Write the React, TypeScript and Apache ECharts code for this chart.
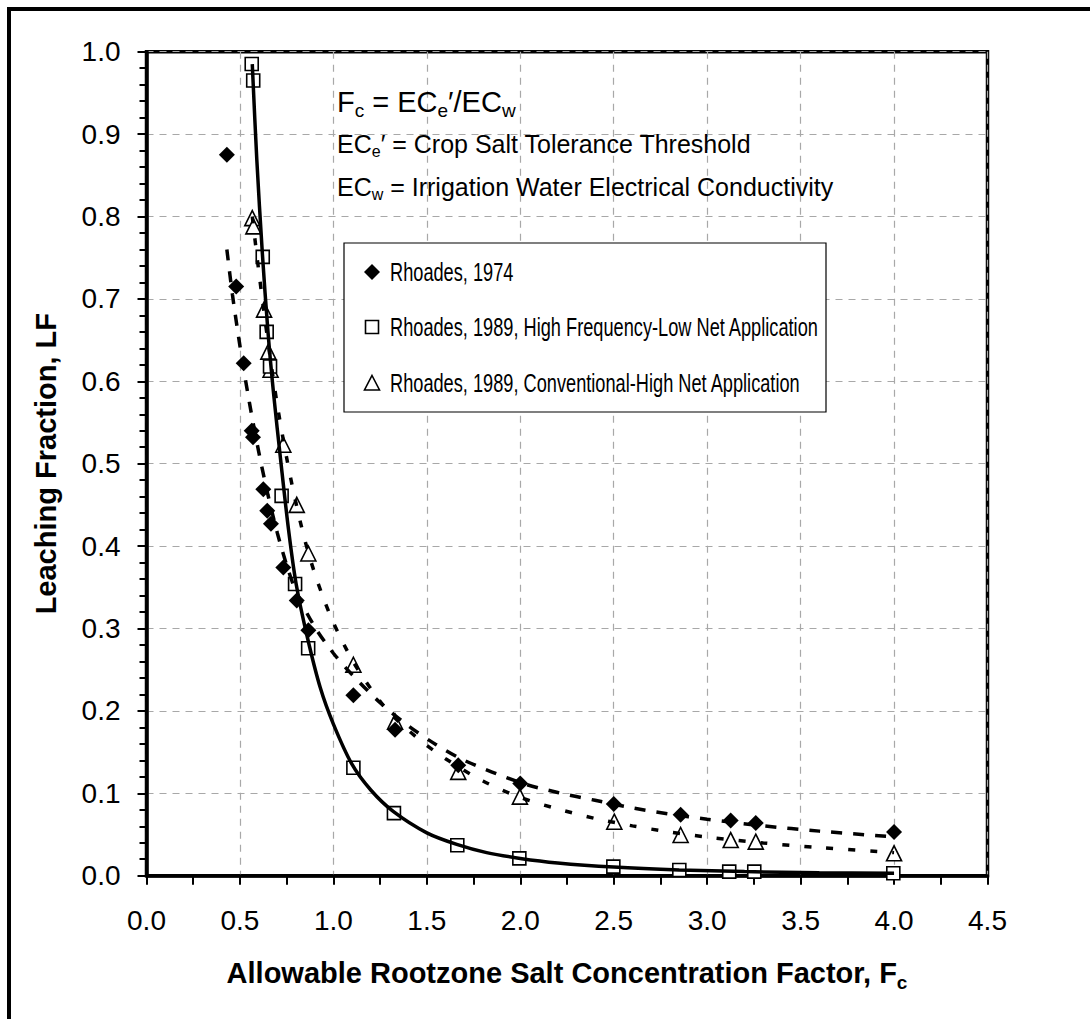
import React, { useEffect, useRef } from 'react';
import * as echarts from 'echarts';

// ---- Data ----
const rhoades1974X = [0.43, 0.48, 0.52, 0.563, 0.57, 0.625, 0.646, 0.666, 0.732, 0.804, 0.866, 1.107, 1.33, 1.668, 2.0, 2.5, 2.858, 3.126, 3.26, 4.0];
const rhoades1974Y = [0.875, 0.715, 0.622, 0.54, 0.532, 0.469, 0.443, 0.427, 0.374, 0.334, 0.298, 0.219, 0.177, 0.134, 0.112, 0.087, 0.074, 0.067, 0.064, 0.053];

const highFreqX = [0.563, 0.571, 0.622, 0.643, 0.661, 0.723, 0.795, 0.865, 1.107, 1.324, 1.663, 1.995, 2.498, 2.851, 3.118, 3.252, 3.996];
const highFreqY = [0.985, 0.965, 0.751, 0.66, 0.618, 0.461, 0.354, 0.276, 0.131, 0.076, 0.037, 0.021, 0.011, 0.007, 0.005, 0.005, 0.003];

const conventionalX = [0.566, 0.572, 0.629, 0.652, 0.664, 0.732, 0.804, 0.866, 1.107, 1.33, 1.668, 1.998, 2.503, 2.858, 3.126, 3.26, 4.0];
const conventionalY = [0.798, 0.788, 0.687, 0.636, 0.614, 0.523, 0.45, 0.391, 0.256, 0.187, 0.126, 0.096, 0.0655, 0.0494, 0.0433, 0.0413, 0.0272];

// trend curves, points
const fitHighFreqX = [0.566, 0.59, 0.62, 0.65, 0.68, 0.72, 0.76, 0.8, 0.86, 0.93, 1.0, 1.1, 1.2, 1.32, 1.5, 1.66, 1.82, 2.0, 2.2, 2.5, 2.85, 3.2, 3.6, 4.0];
const fitHighFreqY = [0.985, 0.87, 0.755, 0.66, 0.585, 0.5, 0.42, 0.355, 0.29, 0.228, 0.184, 0.135, 0.104, 0.078, 0.052, 0.038, 0.028, 0.021, 0.0155, 0.0105, 0.007, 0.005, 0.0035, 0.003];

const fit1974X = [0.43, 0.46, 0.5, 0.55, 0.6, 0.65, 0.7, 0.75, 0.8, 0.9, 1.0, 1.1, 1.25, 1.4, 1.55, 1.7, 2.0, 2.2, 2.4, 2.6, 2.8, 3.0, 3.3, 3.6, 4.0];
const fit1974Y = [0.76, 0.705, 0.643, 0.575, 0.515, 0.462, 0.416, 0.377, 0.345, 0.302, 0.27, 0.244, 0.21, 0.182, 0.159, 0.14, 0.113, 0.101, 0.0915, 0.0823, 0.0748, 0.0685, 0.0605, 0.0541, 0.047];

const fitConvX = [0.566, 0.6, 0.65, 0.7, 0.75, 0.8, 0.85, 0.9, 0.95, 1.0, 1.1, 1.2, 1.3, 1.45, 1.6, 1.8, 2.0, 2.2, 2.4, 2.6, 2.8, 3.0, 3.3, 3.6, 4.0];
const fitConvY = [0.8, 0.735, 0.648, 0.571, 0.507, 0.452, 0.405, 0.367, 0.335, 0.307, 0.262, 0.227, 0.198, 0.167, 0.142, 0.115, 0.095, 0.081, 0.0695, 0.0605, 0.053, 0.0468, 0.0397, 0.0342, 0.028];

const seriesNames = [
  'Rhoades, 1974',
  'Rhoades, 1989, High Frequency-Low Net Application',
  'Rhoades, 1989, Conventional-High Net Application',
];

const xAxisTitle = 'Allowable Rootzone Salt Concentration Factor, F';
const yAxisTitle = 'Leaching Fraction, LF';

const zip = (xs: number[], ys: number[]) => xs.map((x, i) => [x, ys[i]]);

const SANS = "'Liberation Sans', Arial, Helvetica, sans-serif";

// legend layout (box and rows)
const LEG_X = 344;
const LEG_Y = 243;
const LEG_W = 482;
const LEG_H = 169;
const LEG_ROWS = [272, 327, 383];
const LEG_ICON_X = 372;
const LEG_TEXT_X = 390;

export default function App() {
  const ref = useRef<HTMLDivElement>(null);

  useEffect(() => {
    document.body.style.margin = '0';
    const chart = echarts.init(ref.current!, null, { renderer: 'svg' });

    const legendText = (name: string, y: number) => ({
      type: 'text',
      z: 31,
      x: LEG_TEXT_X,
      y,
      scaleX: 0.7,
      style: {
        text: name,
        fontSize: 26,
        fontFamily: SANS,
        fill: '#000',
        textVerticalAlign: 'middle',
        textAlign: 'left',
      },
    });

    const option: any = {
      animation: false,
      backgroundColor: '#fff',
      grid: {
        left: 146.5,
        right: 102.5,
        top: 51.7,
        bottom: 143.3,
        show: true,
        borderColor: '#000',
        borderWidth: 3.5,
        backgroundColor: 'transparent',
      },
      xAxis: {
        type: 'value',
        min: 0,
        max: 4.5,
        interval: 0.5,
        name: `{b|${xAxisTitle}}{s|c}`,
        nameLocation: 'middle',
        nameGap: 79,
        nameTextStyle: {
          rich: {
            b: { fontSize: 29, fontWeight: 'bold', fontFamily: SANS, color: '#000', lineHeight: 37, verticalAlign: 'middle' },
            s: { fontSize: 19, fontWeight: 'bold', fontFamily: SANS, color: '#000', lineHeight: 19, verticalAlign: 'bottom' },
          },
        },
        axisLine: { lineStyle: { color: '#000', width: 3.5 } },
        axisTick: { show: true, inside: false, length: 9, lineStyle: { color: '#000', width: 2 } },
        minorTick: { show: true, splitNumber: 2, length: 9, lineStyle: { color: '#000', width: 2 } },
        splitLine: { show: true, lineStyle: { color: '#a8a8a8', width: 1.2, type: [7, 6] } },
        axisLabel: {
          fontSize: 28,
          fontFamily: SANS,
          color: '#000',
          margin: 31,
          formatter: (v: number) => v.toFixed(1),
        },
      },
      yAxis: {
        type: 'value',
        min: 0,
        max: 1,
        interval: 0.1,
        name: yAxisTitle,
        nameLocation: 'middle',
        nameGap: 86,
        nameRotate: 90,
        nameTextStyle: { fontSize: 29, fontWeight: 'bold', fontFamily: SANS, color: '#000' },
        axisLine: { show: true, lineStyle: { color: '#000', width: 3.5 } },
        axisTick: { show: true, inside: false, length: 9, lineStyle: { color: '#000', width: 2 } },
        minorTick: { show: true, splitNumber: 5, length: 7, lineStyle: { color: '#000', width: 2 } },
        splitLine: { show: true, lineStyle: { color: '#a8a8a8', width: 1.2, type: [7, 6] } },
        axisLabel: {
          fontSize: 28,
          fontFamily: SANS,
          color: '#000',
          margin: 26,
          formatter: (v: number) => v.toFixed(1),
        },
      },
      graphic: [
        {
          type: 'rect',
          silent: true,
          z: 100,
          shape: { x: 9, y: 9, width: 1120, height: 1040 },
          style: { fill: 'none', stroke: '#000', lineWidth: 4 },
        },
        {
          type: 'text',
          z: 20,
          x: 337,
          y: 83.2,
          style: {
            text: '{m|F}{s|c}{m| = EC}{s|e}{m|′/EC}{s|w}',
            textVerticalAlign: 'top',
            rich: {
              m: { fontSize: 29, fontFamily: SANS, fill: '#000', lineHeight: 37, verticalAlign: 'middle' },
              s: { fontSize: 19, fontFamily: SANS, fill: '#000', lineHeight: 19, verticalAlign: 'bottom' },
            },
          },
        },
        {
          type: 'text',
          z: 20,
          x: 337,
          y: 129.2,
          style: {
            text: '{m|EC}{s|e}{m|′ = Crop Salt Tolerance Threshold}',
            textVerticalAlign: 'top',
            rich: {
              m: { fontSize: 25, fontFamily: SANS, fill: '#000', lineHeight: 30, verticalAlign: 'middle' },
              s: { fontSize: 16, fontFamily: SANS, fill: '#000', lineHeight: 16, verticalAlign: 'bottom' },
            },
          },
        },
        {
          type: 'text',
          z: 20,
          x: 337,
          y: 172.2,
          style: {
            text: '{m|EC}{s|w}{m| = Irrigation Water Electrical Conductivity}',
            textVerticalAlign: 'top',
            rich: {
              m: { fontSize: 25, fontFamily: SANS, fill: '#000', lineHeight: 30, verticalAlign: 'middle' },
              s: { fontSize: 16, fontFamily: SANS, fill: '#000', lineHeight: 16, verticalAlign: 'bottom' },
            },
          },
        },
        // legend box
        {
          type: 'rect',
          z: 30,
          shape: { x: LEG_X, y: LEG_Y, width: LEG_W, height: LEG_H },
          style: { fill: '#fff', stroke: '#000', lineWidth: 1.2 },
        },
        {
          type: 'polygon',
          z: 31,
          shape: {
            points: [
              [LEG_ICON_X, LEG_ROWS[0] - 8],
              [LEG_ICON_X + 8, LEG_ROWS[0]],
              [LEG_ICON_X, LEG_ROWS[0] + 8],
              [LEG_ICON_X - 8, LEG_ROWS[0]],
            ],
          },
          style: { fill: '#000', stroke: 'none' },
        },
        {
          type: 'rect',
          z: 31,
          shape: { x: LEG_ICON_X - 6.5, y: LEG_ROWS[1] - 6.5, width: 13, height: 13 },
          style: { fill: '#fff', stroke: '#000', lineWidth: 1.6 },
        },
        {
          type: 'polygon',
          z: 31,
          shape: {
            points: [
              [LEG_ICON_X, LEG_ROWS[2] - 7.5],
              [LEG_ICON_X + 7.5, LEG_ROWS[2] + 7],
              [LEG_ICON_X - 7.5, LEG_ROWS[2] + 7],
            ],
          },
          style: { fill: '#fff', stroke: '#000', lineWidth: 1.6 },
        },
        legendText(seriesNames[0], LEG_ROWS[0]),
        legendText(seriesNames[1], LEG_ROWS[1]),
        legendText(seriesNames[2], LEG_ROWS[2]),
      ],
      series: [
        {
          name: seriesNames[2],
          type: 'scatter',
          symbol: 'triangle',
          symbolSize: 15,
          z: 3,
          itemStyle: { color: '#fff', borderColor: '#000', borderWidth: 1.6, opacity: 1 },
          data: zip(conventionalX, conventionalY),
        },
        {
          name: seriesNames[1],
          type: 'scatter',
          symbol: 'rect',
          symbolSize: 13,
          z: 4,
          itemStyle: { color: '#fff', borderColor: '#000', borderWidth: 1.6, opacity: 1 },
          data: zip(highFreqX, highFreqY),
        },
        {
          name: seriesNames[0],
          type: 'scatter',
          symbol: 'diamond',
          symbolSize: 16,
          z: 5,
          itemStyle: { color: '#000', borderColor: '#000', borderWidth: 0, opacity: 1 },
          data: zip(rhoades1974X, rhoades1974Y),
        },
        {
          name: 'fitHighFreq',
          type: 'line',
          z: 6,
          showSymbol: false,
          symbol: 'none',
          smooth: 0.3,
          lineStyle: { color: '#000', width: 3.5, type: 'solid' },
          data: zip(fitHighFreqX, fitHighFreqY),
          silent: true,
        },
        {
          name: 'fit1974',
          type: 'line',
          z: 6,
          showSymbol: false,
          symbol: 'none',
          smooth: 0.3,
          lineStyle: { color: '#000', width: 3.5, type: [11, 11], cap: 'butt' },
          data: zip(fit1974X, fit1974Y),
          silent: true,
        },
        {
          name: 'fitConv',
          type: 'line',
          z: 6,
          showSymbol: false,
          symbol: 'none',
          smooth: 0.3,
          lineStyle: { color: '#000', width: 3.5, type: [7, 15], cap: 'butt' },
          data: zip(fitConvX, fitConvY),
          silent: true,
        },
      ],
    };

    chart.setOption(option);
    return () => chart.dispose();
  }, []);

  return <div ref={ref} style={{ width: 1090, height: 1019 }} />;
}
